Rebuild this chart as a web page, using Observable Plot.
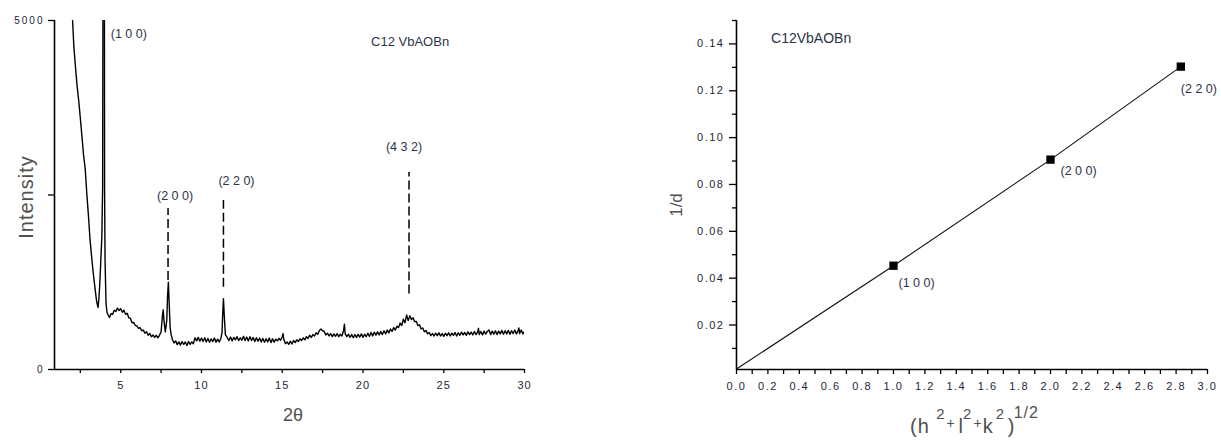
<!DOCTYPE html>
<html><head><meta charset="utf-8">
<script src="https://cdn.jsdelivr.net/npm/d3@7"></script>
<script src="https://cdn.jsdelivr.net/npm/@observablehq/plot@0.6"></script>
<style>
html,body{margin:0;padding:0;background:#fff;}
#wrap{position:relative;width:1221px;height:440px;overflow:hidden;background:#fff;}
#left{position:absolute;left:0;top:0;width:610px;height:440px;}
#right{position:absolute;left:610px;top:0;width:611px;height:440px;}
#left g[aria-label="x-axis tick label"] text{letter-spacing:1px;}
#left g[aria-label="y-axis tick label"] text{letter-spacing:2px;}
#right g[aria-label$="tick label"] text{letter-spacing:1.5px;}
</style></head>
<body><div id="wrap"><div id="left"></div><div id="right"></div></div>
<script>
// ---------- Left panel: XRD pattern (2θ, intensity) ----------
const xrdLowAngle = [
  [1.95,5600],[2.02,5000],[2.1,4620],[2.2,4330],[2.3,4060],[2.4,3850],[2.5,3600],[2.6,3340],
  [2.7,3070],[2.8,2880],[2.9,2520],[3.0,2210],[3.1,1860],[3.2,1610],[3.3,1380],[3.4,1180],
  [3.5,990],[3.55,930],[3.6,890],[3.65,1020],[3.7,1210],[3.76,1520],[3.83,1890],[3.88,2600],
  [3.92,8000],[3.95,20000],[3.98,8000],[4.0,2600],[4.03,1560],[4.09,945],[4.15,820],[4.2,790],[4.25,770]
];
const xrdMidAngle = [
  [4.3,745],[4.4,800],[4.5,790],[4.6,850],[4.7,830],[4.8,880],[4.9,845],[5.0,870],[5.1,820],[5.2,850],
  [5.3,790],[5.4,805],[5.5,740],[5.6,735],[5.7,670],[5.8,675],[5.9,630],[6.0,625],[6.1,590],[6.2,600],
  [6.3,555],[6.4,565],[6.5,520],[6.6,540],[6.7,490],[6.8,515],[6.9,470],[7.0,495],[7.1,460],[7.2,490],
  [7.3,455],[7.4,490],[7.5,540],[7.58,760],[7.63,855],[7.68,700],[7.76,540],[7.85,700],[7.9,1050],
  [7.95,1250],[8.0,950],[8.06,600],[8.12,500],[8.2,430],[8.3,380],[8.4,410],[8.5,355],[8.6,395],
  [8.7,350],[8.8,400],[8.9,360],[9.0,395],[9.1,345],[9.2,400],[9.3,360],[9.4,395],[9.5,370],[9.6,455],
  [9.7,410],[9.8,460],[9.9,405],[10.0,450],[10.1,400],[10.2,455],[10.3,395],[10.4,445],[10.5,390],
  [10.6,440],[10.7,400],[10.8,450],[10.9,390],[11.0,435],[11.1,395],[11.2,445],[11.27,520],[11.32,820],
  [11.36,1015],[11.41,780],[11.48,500],[11.6,455],[11.7,415],[11.8,465],[11.9,410],[12.0,460],[12.1,425],
  [12.2,470],[12.3,415],[12.4,455],[12.5,420],[12.6,475],[12.7,415],[12.8,465],[12.9,410],[13.0,470],
  [13.1,415],[13.2,460],[13.3,400],[13.4,455],[13.5,405],[13.6,450],[13.7,395],[13.8,445],[13.9,390],
  [14.0,440],[14.1,395],[14.2,450],[14.3,385],[14.4,440],[14.5,390],[14.6,435],[14.7,410],[14.8,445],
  [14.9,420],[15.0,470]
];
const xrdHighAngle = [
  [15.05,515],[15.1,430],[15.2,370],[15.3,395],[15.4,360],[15.5,405],[15.6,365],[15.7,415],[15.8,385],
  [15.9,425],[16.0,400],[16.1,440],[16.2,415],[16.3,455],[16.4,425],[16.5,470],[16.6,445],[16.7,490],
  [16.8,460],[16.9,500],[17.0,480],[17.1,525],[17.2,505],[17.3,560],[17.4,580],[17.5,555],[17.6,545],
  [17.7,495],[17.8,520],[17.9,480],[18.0,515],[18.1,470],[18.2,510],[18.3,475],[18.4,515],[18.5,470],
  [18.6,505],[18.7,480],[18.8,560],[18.85,650],[18.9,510],[19.0,470],[19.1,505],[19.2,460],[19.3,500],
  [19.4,455],[19.5,500],[19.6,460],[19.7,505],[19.8,465],[19.9,510],[20.0,460],[20.1,505],[20.2,470],
  [20.3,520],[20.4,475],[20.5,530],[20.6,480],[20.7,535],[20.8,490],[20.9,540],[21.0,495],[21.1,545],
  [21.2,500],[21.3,555],[21.4,510],[21.5,565],[21.6,525],[21.7,580],[21.8,545],[21.9,600],[22.0,565],
  [22.1,620],[22.2,600],[22.3,665],[22.4,630],[22.5,720],[22.6,670],[22.7,780],[22.8,700],[22.9,770],
  [23.0,715],[23.1,740],[23.2,685],[23.3,690],[23.4,630],[23.5,640],[23.6,580],[23.7,595],[23.8,540],
  [23.9,560],[24.0,510],[24.1,530],[24.2,485],[24.3,515],[24.4,480],[24.5,520],[24.6,485],[24.7,525],
  [24.8,480],[24.9,515],[25.0,475],[25.1,520],[25.2,485],[25.3,525],[25.4,480],[25.5,520],[25.6,490],
  [25.7,530],[25.8,480],[25.9,525],[26.0,490],[26.1,535],[26.2,495],[26.3,530],[26.4,490],[26.5,540],
  [26.6,500],[26.7,535],[26.8,495],[26.9,545],[27.0,500],[27.1,540],[27.15,590],[27.2,500],[27.3,545],
  [27.4,495],[27.5,550],[27.6,505],[27.7,545],[27.8,565],[27.9,500],[28.0,550],[28.1,505],[28.2,555],
  [28.3,500],[28.4,550],[28.5,510],[28.6,560],[28.7,505],[28.8,555],[28.9,510],[29.0,560],[29.1,505],
  [29.2,555],[29.3,515],[29.4,565],[29.5,510],[29.6,555],[29.65,595],[29.7,515],[29.8,565],[29.9,510],[30.0,545]
];
const peakLabels = ["(1 0 0)", "(2 0 0)", "(2 2 0)", "(4 3 2)"];
const peakTheta = [3.95, 7.93, 11.36, 22.85];
const markerLow = [null, 1275, 1180, 1082];
const markerHigh = [null, 2307, 2421, 2822];
const leftXDomain = [0.9, 30];
const leftYDomain = [0, 5000];
const leftXMajor = [5, 10, 15, 20, 25, 30];
const leftXMinor = [2.5, 7.5, 12.5, 17.5, 22.5, 27.5];
const leftYTicks = [0, 2500, 5000];
const leftYLabelled = [0, 5000];
const leftSample = "C12 VbAOBn";
const leftSamplePos = [20.5, 4690];

// ---------- Right panel: 1/d vs (h²+l²+k²)^½ ----------
const millerLabels = ["(1 0 0)", "(2 0 0)", "(2 2 0)"];
const hklNorm = [1, 2, 2.83];
const invD = [0.0453, 0.0906, 0.1303];
const fitOrigin = [0, 0.0012];
const rightXDomain = [0, 3];
const rightYDomain = [0.001, 0.15];
const rightXMajor = [0, 0.2, 0.4, 0.6, 0.8, 1.0, 1.2, 1.4, 1.6, 1.8, 2.0, 2.2, 2.4, 2.6, 2.8, 3.0];
const rightXMinor = [0.1, 0.3, 0.5, 0.7, 0.9, 1.1, 1.3, 1.5, 1.7, 1.9, 2.1, 2.3, 2.5, 2.7, 2.9];
const rightYMajor = [0.02, 0.04, 0.06, 0.08, 0.10, 0.12, 0.14];
const rightYMinor = [0.01, 0.03, 0.05, 0.07, 0.09, 0.11, 0.13, 0.15];
const rightSample = "C12VbAOBn";
const rightSamplePos = [0.22, 0.1425];

const FONT = '"Liberation Sans", Arial, sans-serif';
const TICKTXT = "#24263a";
const ANNOT = "#2c3448";
const TITLE = "#505050";

// ---- build left ----
const xrd = [...xrdLowAngle, ...xrdMidAngle, ...xrdHighAngle].map(([t, i]) => ({t, i}));
const peaks = peakLabels.map((label, k) => ({label, t: peakTheta[k], lo: markerLow[k], hi: markerHigh[k]}));
const dashed = peaks.filter(d => d.lo != null);

const leftSvg = Plot.plot({
  width: 610, height: 440,
  marginLeft: 54, marginRight: 86, marginTop: 20, marginBottom: 71,
  x: {domain: leftXDomain}, y: {domain: leftYDomain},
  style: {fontFamily: FONT, fontSize: "11px", background: "white", color: "#000"},
  marks: [
    Plot.axisX({ticks: leftXMajor, tickSize: 4, tickPadding: 8, strokeWidth: 1.3, fill: TICKTXT, label: null}),
    Plot.axisX({ticks: leftXMinor, tickSize: 4, strokeWidth: 1.3, tickFormat: () => "", label: null}),
    Plot.axisY({ticks: leftYTicks, tickSize: 6, tickPadding: 4, strokeWidth: 1.3, fill: TICKTXT, fontSize: 10,
      tickFormat: d => leftYLabelled.includes(d) ? String(d) : "", label: null}),
    Plot.ruleX([leftXDomain[0]], {stroke: "#000", strokeWidth: 1.6}),
    Plot.ruleY([leftYDomain[0]], {stroke: "#000", strokeWidth: 1.6}),
    Plot.line(xrd, {x: "t", y: "i", stroke: "#000", strokeWidth: 1.4, clip: true}),
    Plot.ruleX(dashed, {x: "t", y1: "lo", y2: "hi", stroke: "#000", strokeWidth: 1.5, strokeDasharray: "9,4"}),
    Plot.text([peaks[0]], {x: "t", y: leftYDomain[1], text: "label", textAnchor: "start", dx: 7, dy: 13, fill: ANNOT, fontSize: 12.5}),
    Plot.text([peaks[1]], {x: "t", y: "hi", text: "label", dx: 7, dy: -12, fill: ANNOT, fontSize: 12.5}),
    Plot.text([peaks[2]], {x: "t", y: "hi", text: "label", dx: 13, dy: -20, fill: ANNOT, fontSize: 12.5}),
    Plot.text([peaks[3]], {x: "t", y: "hi", text: "label", dx: -5, dy: -26, fill: ANNOT, fontSize: 12.5}),
    Plot.text([leftSample], {x: leftSamplePos[0], y: leftSamplePos[1], text: d => d, textAnchor: "start", fill: ANNOT, fontSize: 13})
  ]
});
document.getElementById("left").appendChild(leftSvg);
{
  const s = d3.select(leftSvg);
  s.append("text").attr("transform", "translate(26,197) rotate(-90)")
    .attr("text-anchor", "middle").attr("dominant-baseline", "central")
    .attr("font-size", 20).attr("letter-spacing", "1px").attr("fill", TITLE).text("Intensity");
  s.append("text").attr("x", 293).attr("y", 421).attr("text-anchor", "middle")
    .attr("font-size", 18).attr("fill", TITLE).text("2θ");
}

// ---- build right ----
const pts = millerLabels.map((label, k) => ({label, x: hklNorm[k], y: invD[k]}));
const fit = [{x: fitOrigin[0], y: fitOrigin[1]}, ...pts];

const rightSvg = Plot.plot({
  width: 611, height: 440,
  marginLeft: 126, marginRight: 14, marginTop: 20, marginBottom: 71,
  x: {domain: rightXDomain}, y: {domain: rightYDomain},
  style: {fontFamily: FONT, fontSize: "11px", background: "white", color: "#000"},
  marks: [
    Plot.axisX({ticks: rightXMajor, tickSize: 5, tickPadding: 8, strokeWidth: 1.3, fill: TICKTXT, tickFormat: d3.format(".1f"), label: null}),
    Plot.axisX({ticks: rightXMinor, tickSize: 5, strokeWidth: 1.3, tickFormat: () => "", label: null}),
    Plot.axisY({ticks: rightYMajor, tickSize: 7, tickPadding: 5, strokeWidth: 1.3, fill: TICKTXT, tickFormat: d3.format(".2f"), label: null}),
    Plot.axisY({ticks: rightYMinor, tickSize: 4, strokeWidth: 1.3, tickFormat: () => "", label: null}),
    Plot.ruleX([rightXDomain[0]], {stroke: "#000", strokeWidth: 1.6}),
    Plot.ruleY([rightYDomain[0]], {stroke: "#000", strokeWidth: 1.6}),
    Plot.line(fit, {x: "x", y: "y", stroke: "#111", strokeWidth: 1.1}),
    Plot.dot(pts, {x: "x", y: "y", symbol: "square", r: 4.7, fill: "#000", stroke: "none"}),
    Plot.text([pts[0]], {x: "x", y: "y", text: "label", textAnchor: "start", dx: 5, dy: 17, fill: ANNOT, fontSize: 12.5}),
    Plot.text([pts[1]], {x: "x", y: "y", text: "label", textAnchor: "start", dx: 10, dy: 11, fill: ANNOT, fontSize: 12.5}),
    Plot.text([pts[2]], {x: "x", y: "y", text: "label", textAnchor: "start", dx: 0, dy: 22, fill: ANNOT, fontSize: 12.5}),
    Plot.text([rightSample], {x: rightSamplePos[0], y: rightSamplePos[1], text: d => d, textAnchor: "start", fill: ANNOT, fontSize: 14})
  ]
});
document.getElementById("right").appendChild(rightSvg);
{
  const s = d3.select(rightSvg);
  s.append("text").attr("transform", "translate(66,205) rotate(-90)")
    .attr("text-anchor", "middle").attr("dominant-baseline", "central")
    .attr("font-size", 17).attr("fill", TITLE).text("1/d");
  const t = s.append("text").attr("x", 310).attr("y", 433).attr("fill", TITLE)
    .attr("font-size", 20).attr("letter-spacing", "1px");
  const parts = [
    ["(h", 20, 433, 0], ["2", 15, 419, 1], ["+", 14, 428, 1], ["l", 20, 433, 1], ["2", 15, 419, 1],
    ["+", 14, 428, 1], ["k", 20, 433, 1], ["2", 15, 419, 1], [")", 20, 433, 2], ["1/2", 16, 418, 7]
  ];
  for (const [txt, fs, y, gap] of parts) t.append("tspan").attr("y", y).attr("dx", gap).attr("font-size", fs).text(txt);
}
</script>
</body></html>
